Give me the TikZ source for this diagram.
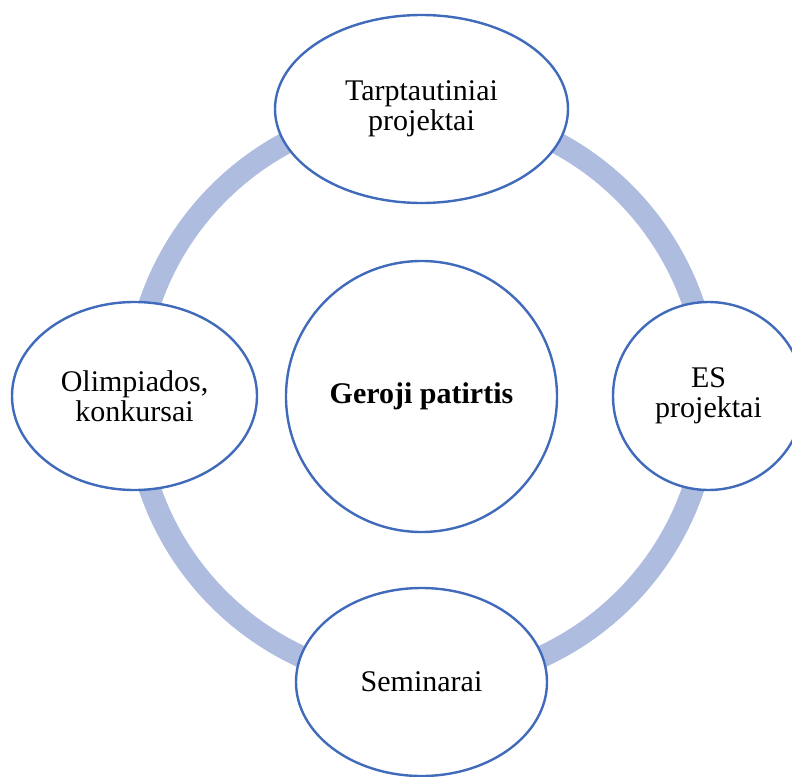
\documentclass[tikz,border=0pt]{standalone}
\usepackage{fontspec}
\setmainfont{Liberation Serif}
\usetikzlibrary{shapes.geometric}
\definecolor{outlineblue}{RGB}{64,106,186}
\definecolor{ringblue}{RGB}{174,188,223}
\begin{document}
\begin{tikzpicture}[x=1pt,y=-1pt,
  bubble/.style={ellipse, draw=outlineblue, line width=2.4pt, fill=white,
    inner sep=0pt, align=center, font=\fontsize{30}{30}\selectfont},
  hubstyle/.style={circle, draw=outlineblue, line width=2.4pt, fill=white,
    inner sep=0pt, align=center, font=\fontsize{30}{30}\selectfont\bfseries},
  ring/.style={draw=ringblue, line width=22pt}]
\clip (0,0) rectangle (792,776);
\useasboundingbox (0,0) rectangle (792,776);

% centre of the cycle
\coordinate (mid) at (421.5,396);

% cycle ring drawn first, the bubbles sit on top of it
\draw[ring] (mid) circle[radius=287pt];

\node[hubstyle, minimum size=271pt] (hub) at (421.5,396.5) {Geroji patirtis};

\node[bubble, minimum width=293pt, minimum height=188pt] (top) at (421.5,109)
  {Tarptautiniai\\projektai};
\node[bubble, minimum width=191pt, minimum height=188pt] (right) at (708.5,396)
  {ES\\projektai};
\node[bubble, minimum width=251pt, minimum height=188pt] (bottom) at (421.5,682)
  {Seminarai};
\node[bubble, minimum width=245pt, minimum height=188pt] (left) at (134.5,396)
  {Olimpiados,\\konkursai};
\end{tikzpicture}
\end{document}
